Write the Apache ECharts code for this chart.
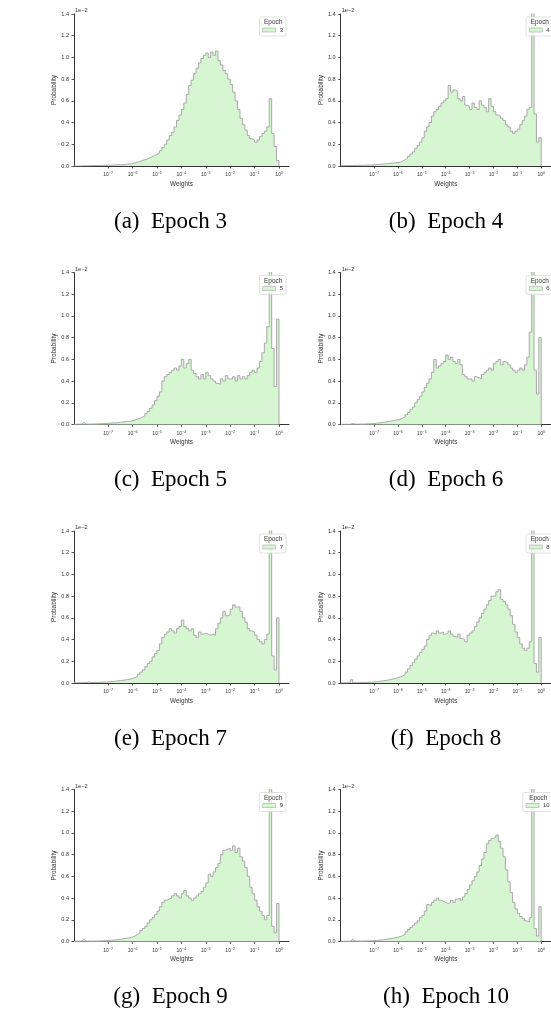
<!DOCTYPE html>
<html>
<head>
<meta charset="utf-8">
<script src="https://cdn.jsdelivr.net/npm/echarts@6/dist/echarts.min.js"></script>
<style>
  html, body { margin: 0; padding: 0; background: #fff; }
  #chart { width: 551px; height: 1012px; }
</style>
</head>
<body>
<div id="chart"></div>
<script>
// histogram bins: log10(weight) from -8.4, 0.1 decade wide, values in units of 1e-2
const binStart = -8.4;
const binWidth = 0.1;
const decadeTicks = [-7, -6, -5, -4, -3, -2, -1, 0];

const epochs = ['3', '4', '5', '6', '7', '8', '9', '10'];
const letters = ['a', 'b', 'c', 'd', 'e', 'f', 'g', 'h'];

const probEpoch3 = [
  0.0, 0.0, 0.0, 0.002, 0.002, 0.003, 0.003, 0.004, 0.004, 0.005, 0.005, 0.006, 0.007, 0.008,
  0.008, 0.009, 0.01, 0.011, 0.012, 0.013, 0.015, 0.017, 0.019, 0.022,
  0.03, 0.035, 0.042, 0.05, 0.058, 0.065, 0.075, 0.085, 0.095, 0.105,
  0.12, 0.14, 0.17, 0.2, 0.24, 0.28, 0.31, 0.36, 0.42, 0.47,
  0.52, 0.58, 0.66, 0.74, 0.79, 0.85, 0.9, 0.95, 0.99, 1.02,
  1.04, 1.0, 1.05, 1.02, 1.06, 0.97, 0.93, 0.88, 0.85, 0.8,
  0.75, 0.68, 0.6, 0.52, 0.44, 0.38, 0.33, 0.28, 0.25, 0.24,
  0.22, 0.24, 0.27, 0.3, 0.32, 0.36, 0.62, 0.3, 0.18, 0.05
];
const probEpoch4 = [
  0.003, 0.004, 0.004, 0.005, 0.005, 0.006, 0.006, 0.007, 0.007, 0.008, 0.008, 0.009, 0.01, 0.01,
  0.012, 0.014, 0.016, 0.018, 0.02, 0.022, 0.025, 0.028, 0.03, 0.032,
  0.035, 0.045, 0.06, 0.07, 0.09, 0.11, 0.13, 0.16, 0.19, 0.22,
  0.26, 0.32, 0.36, 0.4, 0.46, 0.5, 0.52, 0.55, 0.58, 0.6,
  0.62, 0.74, 0.68, 0.7, 0.69, 0.62, 0.6, 0.64, 0.56, 0.55,
  0.52, 0.58, 0.54, 0.52, 0.6, 0.56, 0.54, 0.5, 0.62, 0.55,
  0.5, 0.47, 0.46, 0.44, 0.42, 0.38, 0.36, 0.32, 0.3, 0.32,
  0.34, 0.38, 0.42, 0.46, 0.52, 0.54, 1.5, 0.48, 0.22, 0.26
];
const probEpoch5 = [
  0.002, 0.003, 0.003, 0.02, 0.003, 0.004, 0.004, 0.005, 0.005, 0.006, 0.007, 0.008, 0.009, 0.01,
  0.012, 0.015, 0.014, 0.018, 0.02, 0.022, 0.025, 0.03, 0.028, 0.035,
  0.04, 0.05, 0.055, 0.07, 0.08, 0.1, 0.12, 0.15, 0.18, 0.22,
  0.26, 0.3, 0.4, 0.44, 0.46, 0.48, 0.5, 0.52, 0.5, 0.54,
  0.6, 0.52, 0.56, 0.6, 0.5, 0.47, 0.44, 0.42, 0.46, 0.42,
  0.48, 0.45, 0.42, 0.4, 0.38, 0.37, 0.42, 0.4, 0.45, 0.42,
  0.42, 0.44, 0.4, 0.45, 0.42, 0.44, 0.42, 0.45, 0.48, 0.5,
  0.48, 0.52, 0.58, 0.66, 0.75, 0.9, 1.5, 0.7, 0.35, 0.97
];
const probEpoch6 = [
  0.001, 0.002, 0.002, 0.002, 0.01, 0.003, 0.003, 0.004, 0.004, 0.005, 0.006, 0.006, 0.008, 0.009,
  0.012, 0.014, 0.018, 0.02, 0.024, 0.028, 0.03, 0.035, 0.04, 0.045,
  0.05, 0.06, 0.07, 0.09, 0.11, 0.14, 0.16, 0.2, 0.23, 0.26,
  0.3, 0.34, 0.38, 0.42, 0.48, 0.6, 0.52, 0.54, 0.56, 0.58,
  0.64, 0.6, 0.62, 0.58, 0.56, 0.6, 0.55, 0.46, 0.44, 0.42,
  0.42, 0.4, 0.44, 0.43, 0.42, 0.46, 0.48, 0.5, 0.52, 0.5,
  0.56, 0.58, 0.6, 0.55, 0.58, 0.57, 0.55, 0.52, 0.5, 0.48,
  0.5, 0.52, 0.5, 0.55, 0.62, 0.85, 1.5, 0.5, 0.28, 0.8
];
const probEpoch7 = [
  0.002, 0.003, 0.003, 0.004, 0.004, 0.01, 0.005, 0.005, 0.006, 0.006, 0.007, 0.008, 0.009, 0.01,
  0.012, 0.014, 0.016, 0.02, 0.022, 0.025, 0.028, 0.032, 0.036, 0.042,
  0.05, 0.06, 0.08, 0.1, 0.12, 0.15, 0.18, 0.2, 0.24, 0.27,
  0.3, 0.36, 0.42, 0.45, 0.47, 0.5, 0.48, 0.46, 0.5, 0.52,
  0.58, 0.52, 0.5, 0.48, 0.5, 0.44, 0.42, 0.47, 0.45, 0.46,
  0.45, 0.44, 0.45, 0.44, 0.5, 0.55, 0.6, 0.66, 0.62, 0.63,
  0.68, 0.72, 0.7, 0.7, 0.66, 0.6, 0.56, 0.5, 0.48, 0.47,
  0.44, 0.4, 0.38, 0.36, 0.4, 0.45, 1.5, 0.25, 0.12, 0.6
];
const probEpoch8 = [
  0.001, 0.002, 0.002, 0.002, 0.03, 0.003, 0.004, 0.004, 0.005, 0.005, 0.006, 0.007, 0.008, 0.009,
  0.012, 0.014, 0.018, 0.02, 0.024, 0.028, 0.032, 0.038, 0.042, 0.05,
  0.055, 0.065, 0.08, 0.1, 0.13, 0.16, 0.19, 0.22, 0.25, 0.28,
  0.31, 0.34, 0.4, 0.44, 0.46, 0.45, 0.48, 0.46, 0.47, 0.45,
  0.46, 0.48, 0.45, 0.43, 0.42, 0.45, 0.41, 0.4, 0.38, 0.44,
  0.46, 0.48, 0.52, 0.56, 0.6, 0.64, 0.68, 0.72, 0.76, 0.8,
  0.8, 0.84, 0.86, 0.77, 0.75, 0.72, 0.68, 0.62, 0.54, 0.47,
  0.42, 0.36, 0.32, 0.3, 0.32, 0.38, 1.5, 0.18, 0.1, 0.42
];
const probEpoch9 = [
  0.002, 0.002, 0.003, 0.02, 0.003, 0.003, 0.004, 0.004, 0.005, 0.005, 0.006, 0.007, 0.008, 0.009,
  0.01, 0.012, 0.015, 0.018, 0.02, 0.024, 0.028, 0.032, 0.036, 0.04,
  0.05, 0.065, 0.08, 0.1, 0.12, 0.14, 0.17, 0.2, 0.22, 0.25,
  0.28, 0.32, 0.36, 0.38, 0.39, 0.4, 0.42, 0.44, 0.42, 0.4,
  0.44, 0.47, 0.42, 0.4, 0.38, 0.4, 0.42, 0.44, 0.46, 0.5,
  0.54, 0.62, 0.6, 0.64, 0.68, 0.72, 0.8, 0.84, 0.85, 0.86,
  0.84, 0.88, 0.82, 0.86, 0.78, 0.74, 0.68, 0.6, 0.5, 0.44,
  0.38, 0.32, 0.28, 0.24, 0.2, 0.24, 1.5, 0.14, 0.08, 0.35
];
const probEpoch10 = [
  0.001, 0.002, 0.002, 0.002, 0.02, 0.003, 0.003, 0.004, 0.004, 0.005, 0.005, 0.006, 0.007, 0.008,
  0.01, 0.012, 0.014, 0.017, 0.02, 0.023, 0.027, 0.03, 0.035, 0.04,
  0.045, 0.055, 0.07, 0.09, 0.11, 0.13, 0.15, 0.17, 0.19, 0.22,
  0.24, 0.28, 0.34, 0.33, 0.36, 0.38, 0.4, 0.38, 0.37, 0.36,
  0.35, 0.36, 0.38, 0.36, 0.39, 0.4, 0.38, 0.41, 0.44, 0.48,
  0.52, 0.56, 0.6, 0.64, 0.7, 0.76, 0.82, 0.9, 0.93, 0.95,
  0.96, 0.98, 0.92, 0.86, 0.78, 0.66, 0.55, 0.45, 0.36, 0.3,
  0.26, 0.23, 0.21, 0.19, 0.18, 0.22, 1.5, 0.12, 0.05, 0.32
];

const allProbs = [probEpoch3, probEpoch4, probEpoch5, probEpoch6, probEpoch7, probEpoch8, probEpoch9, probEpoch10];

// layout (px)
const colLeft = [74, 340.7];
const gridW = 215;
const rowTop = [14, 272.5, 531, 789.5];
const gridH = 152;
const captionX = [170.5, 446];
const captionY = 55.7; // below axis bottom

const fillColor = '#d6f5d1';
const edgeColor = '#a9a9a9';
const inkColor = '#333';
const sans = 'Liberation Sans';

const minus = '\u2212';

function stepPoints(vals) {
  const pts = vals.map((v, i) => [binStart + i * binWidth, v]);
  pts.push([binStart + vals.length * binWidth, 0]);
  return pts;
}

const grids = [], xAxes = [], yAxes = [], series = [], legends = [], titles = [], graphics = [];

allProbs.forEach((vals, k) => {
  const col = k % 2, row = Math.floor(k / 2);
  const left = colLeft[col], top = rowTop[row];
  grids.push({ left: left, top: top, width: gridW, height: gridH, containLabel: false });

  xAxes.push({
    gridIndex: k, type: 'value', min: binStart, max: 0.41,
    name: 'Weights', nameLocation: 'middle', nameGap: 15,
    nameTextStyle: { fontFamily: sans, fontSize: 6.4, color: inkColor },
    axisLine: { onZero: false, lineStyle: { color: inkColor, width: 1 } },
    axisTick: { customValues: decadeTicks, length: 2.5, lineStyle: { color: inkColor, width: 0.8 } },
    axisLabel: {
      customValues: decadeTicks, margin: 5, color: inkColor, fontFamily: sans,
      formatter: v => '{b|10}{s|' + (v === 0 ? '0' : minus + Math.abs(v)) + '}',
      rich: {
        b: { fontSize: 5, fontFamily: sans, color: inkColor },
        s: { fontSize: 3.6, fontFamily: sans, color: inkColor, padding: [0, 0, 4, 0] }
      }
    },
    splitLine: { show: false }
  });

  yAxes.push({
    gridIndex: k, type: 'value', min: 0, max: 1.4, interval: 0.2,
    name: 'Probability', nameLocation: 'middle', nameGap: 16,
    nameTextStyle: { fontFamily: sans, fontSize: 6.4, color: inkColor },
    axisLine: { show: true, onZero: false, lineStyle: { color: inkColor, width: 1 } },
    axisTick: { show: true, length: 2.5, lineStyle: { color: inkColor, width: 0.8 } },
    axisLabel: { margin: 5, fontSize: 5.6, fontFamily: sans, color: inkColor, formatter: v => v.toFixed(1) },
    splitLine: { show: false }
  });

  series.push({
    name: epochs[k], type: 'line', step: 'end',
    xAxisIndex: k, yAxisIndex: k,
    data: stepPoints(vals),
    symbol: 'none', showSymbol: false, clip: true,
    lineStyle: { color: edgeColor, width: 1 },
    areaStyle: { color: fillColor, opacity: 1 },
    itemStyle: { color: fillColor, borderColor: edgeColor },
    animation: false
  });

  const boxRight = left + gridW - 3;
  legends.push({
    data: [epochs[k]], right: 551 - boxRight, top: top + 3,
    orient: 'vertical', icon: 'rect', itemWidth: 13, itemHeight: 4, itemGap: 2,
    padding: [10, 3, 3, 3],
    backgroundColor: 'rgba(255,255,255,0.8)', borderColor: '#d8d8d8', borderWidth: 0.8, borderRadius: 2,
    itemStyle: { color: fillColor, borderColor: edgeColor, borderWidth: 0.6 },
    textStyle: { fontFamily: sans, fontSize: 6, color: inkColor, padding: [0, 0, 0, -1] },
    selectedMode: false
  });

  // legend title
  const boxW = epochs[k].length > 1 ? 29 : 25.7;
  graphics.push({
    type: 'text', x: boxRight - boxW / 2, y: top + 8.3, z: 100,
    style: { text: 'Epoch', fontFamily: sans, fontSize: 6.4, fill: inkColor, align: 'center', verticalAlign: 'middle' }
  });
  // offset text of the y axis
  graphics.push({
    type: 'text', x: left + 1, y: top - 3.3, z: 100,
    style: { text: '1e' + minus + '2', fontFamily: sans, fontSize: 5.6, fill: inkColor, align: 'left', verticalAlign: 'middle' }
  });

  titles.push({
    text: '(' + letters[k] + ')  Epoch ' + epochs[k],
    left: captionX[col], top: top + gridH + captionY - 11.5, textAlign: 'center', padding: 0,
    textStyle: { fontFamily: 'Liberation Serif', fontSize: 23, fontWeight: 'normal', color: '#000' }
  });
});

const chart = echarts.init(document.getElementById('chart'), null, { renderer: 'canvas' });
chart.setOption({
  animation: false,
  backgroundColor: '#fff',
  title: titles,
  grid: grids,
  xAxis: xAxes,
  yAxis: yAxes,
  legend: legends,
  series: series,
  graphic: graphics
});
</script>
</body>
</html>
